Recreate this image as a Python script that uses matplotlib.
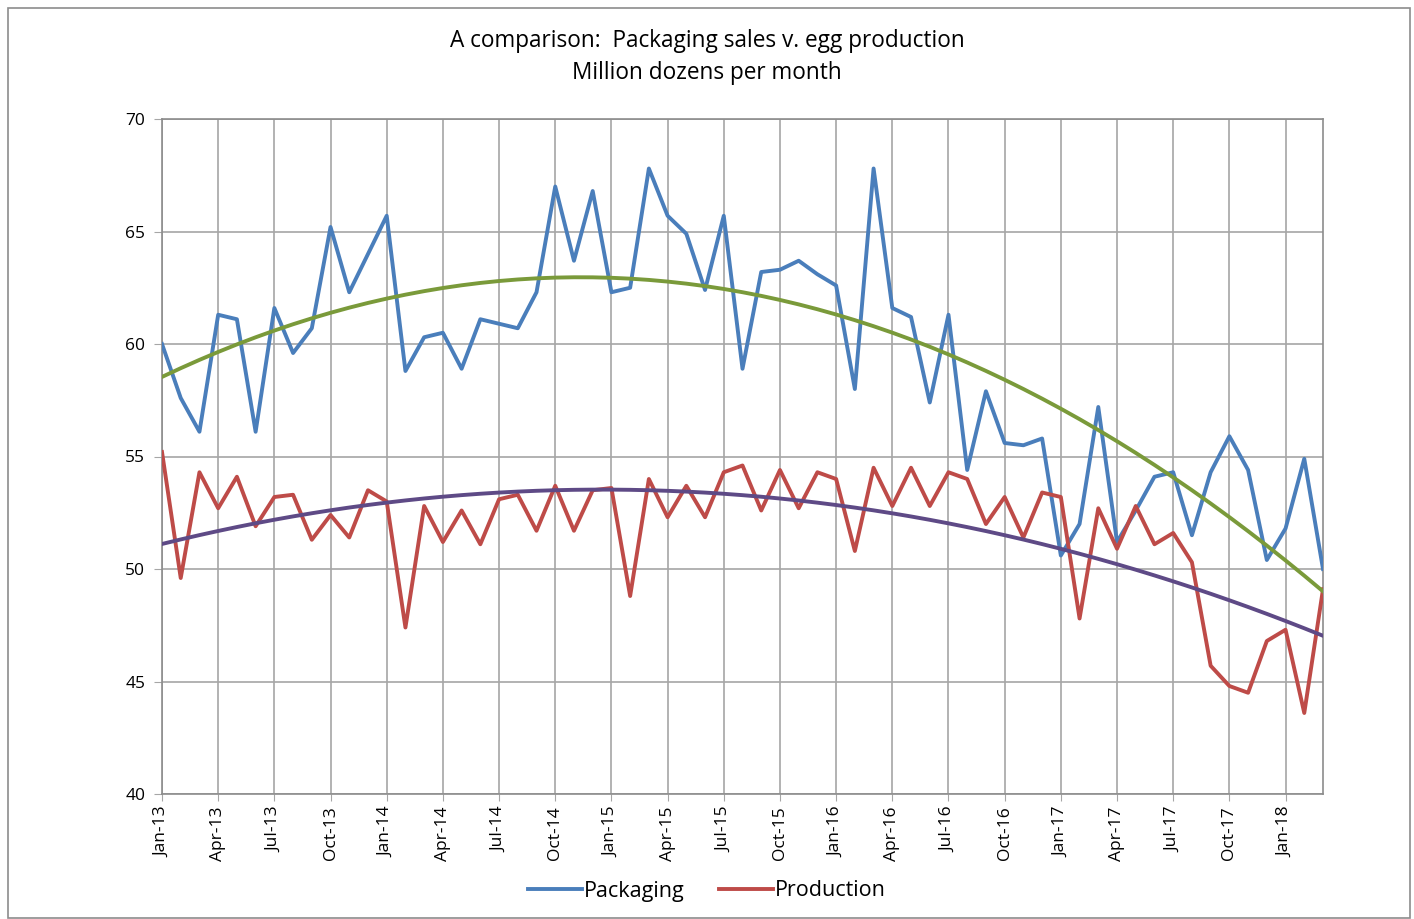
import matplotlib
matplotlib.use("Agg")
import matplotlib.pyplot as plt
import numpy as np
import pandas as pd

months = pd.date_range("2013-01-01", "2018-03-01", freq="MS")

packaging = [
    60.0, 57.6, 56.1, 61.3, 61.1, 56.1, 61.6, 59.6, 60.7, 65.2, 62.3, 64.0,
    65.7, 58.8, 60.3, 60.5, 58.9, 61.1, 60.9, 60.7, 62.3, 67.0, 63.7, 66.8,
    62.3, 62.5, 67.8, 65.7, 64.9, 62.4, 65.7, 58.9, 63.2, 63.3, 63.7, 63.1,
    62.6, 58.0, 67.8, 61.6, 61.2, 57.4, 61.3, 54.4, 57.9, 55.6, 55.5, 55.8,
    50.6, 52.0, 57.2, 51.2, 52.6, 54.1, 54.3, 51.5, 54.3, 55.9, 54.4, 50.4,
    51.8, 54.9, 50.0,
]
production = [
    55.2, 49.6, 54.3, 52.7, 54.1, 51.9, 53.2, 53.3, 51.3, 52.4, 51.4, 53.5,
    53.0, 47.4, 52.8, 51.2, 52.6, 51.1, 53.1, 53.3, 51.7, 53.7, 51.7, 53.5,
    53.6, 48.8, 54.0, 52.3, 53.7, 52.3, 54.3, 54.6, 52.6, 54.4, 52.7, 54.3,
    54.0, 50.8, 54.5, 52.8, 54.5, 52.8, 54.3, 54.0, 52.0, 53.2, 51.4, 53.4,
    53.2, 47.8, 52.7, 50.9, 52.8, 51.1, 51.6, 50.3, 45.7, 44.8, 44.5, 46.8,
    47.3, 43.6, 49.1,
]

x = np.arange(len(months))
tick_idx = x[::3]
tick_labels = [m.strftime("%b-%y") for m in months[::3]]

# order-2 polynomial trendlines, as in the spreadsheet
pk_trend = np.polyval(np.polyfit(x, packaging, 2), x)
pr_trend = np.polyval(np.polyfit(x, production, 2), x)

plt.rcParams["font.family"] = ["Open Sans", "DejaVu Sans"]

fig = plt.figure(figsize=(14.14, 9.19), dpi=100)
ax = fig.add_axes([162 / 1414, 1 - 794 / 919, (1323 - 162) / 1414, (794 - 119) / 919])

grid_c = "#a6a6a6"
ax.plot(x, packaging, color="#4a7ebb", lw=2.8, label="Packaging", zorder=3)
ax.plot(x, production, color="#be4b48", lw=2.8, label="Production", zorder=3)
ax.plot(x, pk_trend, color="#7a9a3a", lw=2.8, zorder=4)
ax.plot(x, pr_trend, color="#5e4a86", lw=2.8, zorder=4)

ax.set_xlim(0, len(x) - 1)
ax.set_ylim(40, 70)
ax.set_yticks(range(40, 71, 5))
ax.set_xticks(tick_idx)
ax.set_xticklabels(tick_labels, rotation=90, fontsize=12.5)
ax.tick_params(axis="y", labelsize=12.5, length=6, color=grid_c, pad=6)
ax.tick_params(axis="x", length=5, color=grid_c, pad=4)
ax.grid(True, color=grid_c, lw=1.2)
ax.set_axisbelow(True)
for spine in ax.spines.values():
    spine.set_color("#8c8c8c")
    spine.set_linewidth(1.2)

fig.text(0.5, 1 - 41 / 919, "A comparison:  Packaging sales v. egg production",
         ha="center", va="center", fontsize=16.3)
fig.text(0.5, 1 - 73 / 919, "Million dozens per month",
         ha="center", va="center", fontsize=16.3)

fig.legend(loc="center", bbox_to_anchor=(0.5, 1 - 891 / 919), ncol=2, frameon=False,
           fontsize=15.5, handlelength=2.5, handletextpad=0.1, columnspacing=1.6)

border = plt.Rectangle((8 / 1414, 1 / 919), 1402 / 1414, 910 / 919, transform=fig.transFigure,
                       fill=False, edgecolor="#8c8c8c", lw=1.2)
fig.patches.append(border)

fig.savefig("out.png", dpi=100, facecolor="white")
